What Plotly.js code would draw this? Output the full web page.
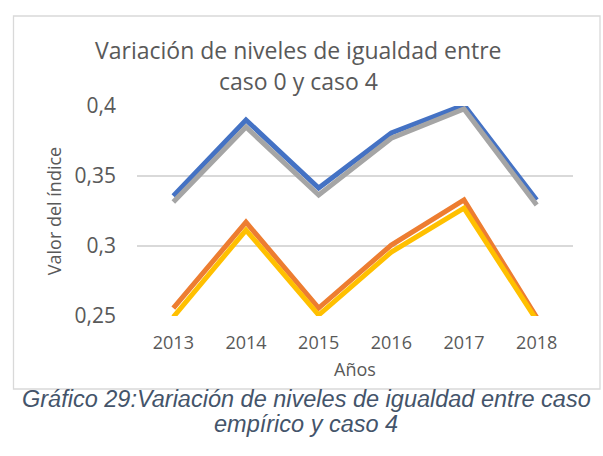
<!DOCTYPE html>
<html>
<head>
<meta charset="utf-8">
<script src="https://cdn.plot.ly/plotly-3.0.1.min.js"></script>
<style>html,body{margin:0;padding:0;background:#fff;}#chart{width:603px;height:456px;}</style>
</head>
<body>
<div id="chart"></div>
<script>
const years = ["2013", "2014", "2015", "2016", "2017", "2018"];
const serieAzul = [0.3357, 0.3900, 0.3414, 0.3807, 0.4007, 0.3329];
const serieNaranja = [0.2557, 0.3170, 0.2557, 0.3007, 0.3329, 0.2490];
const serieGris = [0.3314, 0.3850, 0.3364, 0.3770, 0.3979, 0.3293];
const serieAmarilla = [0.2493, 0.3114, 0.2507, 0.2957, 0.3270, 0.2470];
const yTicks = [0.25, 0.3, 0.35, 0.4];
const yTickText = ["0,25", "0,3", "0,35", "0,4"];
const titleLines = ["Variación de niveles de igualdad entre", "caso 0 y caso 4"];
const captionLines = ["Gráfico 29:Variación de niveles de igualdad entre caso", "empírico y caso 4"];

const W = 603, H = 456;
const px = v => v / W, py = v => 1 - v / H;
const mk = (y, color) => ({
  x: years, y: y, type: "scatter", mode: "lines",
  line: {color: color, width: 5, shape: "linear"},
  hoverinfo: "skip", showlegend: false
});
const data = [
  mk(serieAzul, "#4472C4"),
  mk(serieNaranja, "#ED7D31"),
  mk(serieGris, "#A5A5A5"),
  mk(serieAmarilla, "#FFC000")
];
const txt = "#595959";
const fam = "Open Sans, sans-serif";
const capFont = {family: "Liberation Sans, Arial, sans-serif", size: 23.5, color: "#44546A"};
const ann = (text, x, y, font) => ({
  text: text, xref: "paper", yref: "paper", x: px(x), y: py(y),
  xanchor: "center", yanchor: "middle", showarrow: false, align: "center", font: font
});
const layout = {
  width: W, height: H,
  margin: {l: 0, r: 0, t: 0, b: 0},
  paper_bgcolor: "#ffffff", plot_bgcolor: "rgba(0,0,0,0)",
  font: {family: fam, color: txt},
  xaxis: {
    type: "category", domain: [px(137), px(573)], range: [-0.5, 5.5],
    showgrid: false, zeroline: false, showline: false, ticks: "",
    tickfont: {size: 18, color: txt}, ticklabelstandoff: 14,
    title: {text: "Años", font: {size: 18, color: txt}, standoff: 10}
  },
  yaxis: {
    range: [0.25, 0.4], domain: [py(316), py(106)],
    tickvals: yTicks, ticktext: yTickText,
    showgrid: true, gridcolor: "#D9D9D9", gridwidth: 1.3,
    zeroline: false, showline: false, ticks: "",
    tickfont: {size: 21, color: txt}, ticklabelstandoff: 20,
    title: {text: "Valor del índice", font: {size: 18, color: txt}, standoff: 8}
  },
  shapes: [{
    type: "rect", xref: "paper", yref: "paper",
    x0: px(13.5), x1: px(600), y0: py(389), y1: py(16),
    line: {color: "#D9D9D9", width: 1.3}, layer: "below"
  }],
  annotations: [
    ann(titleLines[0], 298.5, 50, {family: fam, size: 23, color: txt}),
    ann(titleLines[1], 298.5, 81, {family: fam, size: 23, color: txt}),
    ann("<i>" + captionLines[0] + "</i>", 306, 399, capFont),
    ann("<i>" + captionLines[1] + "</i>", 306, 424, capFont)
  ]
};
Plotly.newPlot("chart", data, layout, {displayModeBar: false, staticPlot: true});
</script>
</body>
</html>
